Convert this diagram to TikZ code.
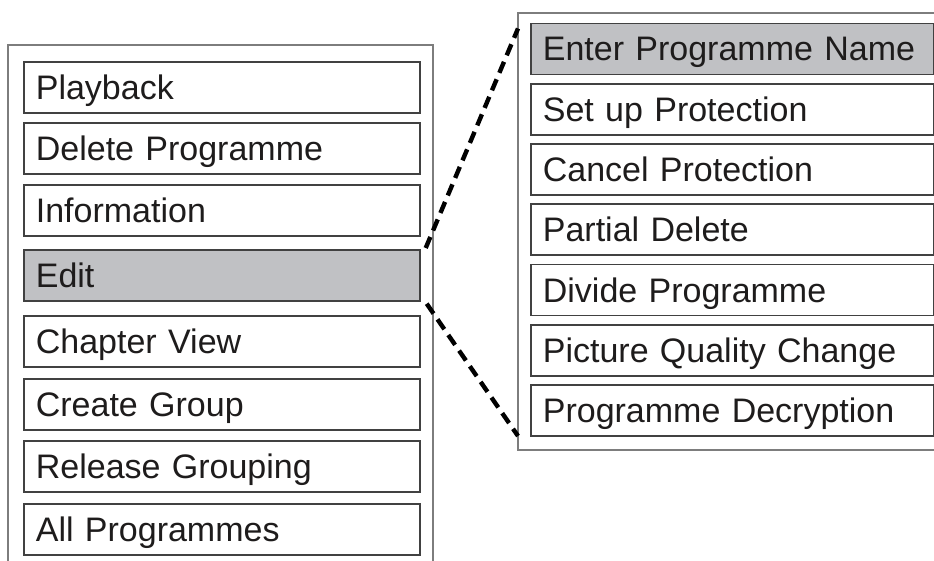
\documentclass[tikz,border=0pt]{standalone}
\usepackage{fontspec}
\setmainfont{Liberation Sans}
\usetikzlibrary{calc}
\definecolor{outerline}{RGB}{125,125,125}
\definecolor{innerline}{RGB}{65,65,65}
\definecolor{selfill}{RGB}{192,193,196}
\definecolor{txt}{RGB}{30,28,28}
\tikzset{
  x=1pt, y=-1pt,
  outerbox/.style={draw=outerline, line width=1.8pt},
  itembox/.style={draw=innerline, line width=1.7pt, fill=white, rectangle, anchor=north west,
    inner xsep=12pt, inner ysep=0pt, text height=24pt, text depth=0pt,
    minimum height=51pt, align=left, text=txt,
    font=\fontsize{34}{36}\selectfont},
  leftitem/.style={itembox, text width=372pt},
  rightitem/.style={itembox, text width=379pt},
  sel/.style={fill=selfill},
  zoomline/.style={line width=4.4pt, dash pattern=on 12pt off 7pt, black}
}
\begin{document}
\begin{tikzpicture}
\useasboundingbox (0,0) rectangle (934,560);
\clip (0,0) rectangle (934,560);
\fill[white] (0,0) rectangle (934,560);
% outer frames
\draw[outerbox] (8,45) rectangle (433,600);
\draw[outerbox] (518,13) rectangle (960,450);
% left menu
\node[leftitem] (l1) at (23,61) {Playback};
\node[leftitem] (l2) at (23,122) {Delete Programme};
\node[leftitem] (l3) at (23,184) {Information};
\node[leftitem, sel] (l4) at (23,249) {Edit};
\node[leftitem] (l5) at (23,315) {Chapter View};
\node[leftitem] (l6) at (23,378) {Create Group};
\node[leftitem] (l7) at (23,440) {Release Grouping};
\node[leftitem] (l8) at (23,503) {All Programmes};
% right menu
\node[rightitem, sel] (r1) at (530,22.5) {Enter Programme Name};
\node[rightitem] (r2) at (530,82.8) {Set up Protection};
\node[rightitem] (r3) at (530,143.1) {Cancel Protection};
\node[rightitem] (r4) at (530,203.4) {Partial Delete};
\node[rightitem] (r5) at (530,263.7) {Divide Programme};
\node[rightitem] (r6) at (530,324) {Picture Quality Change};
\node[rightitem] (r7) at (530,384.3) {Programme Decryption};
% zoom connectors
\coordinate (ztop) at ($(r1.north west)+(-12,6)$);
\coordinate (zbot) at ($(r7.south west)+(-12,-1)$);
\draw[zoomline] ($(l4.north east)+(5,-1)$) -- (ztop);
\draw[zoomline] ($(l4.south east)+(6,2)$) -- (zbot);
\end{tikzpicture}
\end{document}
